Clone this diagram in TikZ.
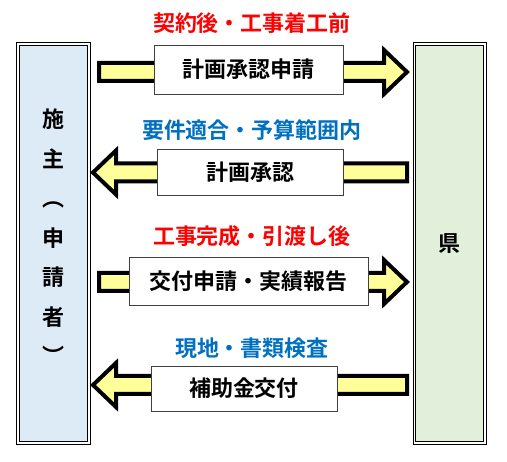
\documentclass[tikz,border=0pt]{standalone}
\usepackage{fontspec}
\setmainfont{Noto Sans CJK JP}[BoldFont={Noto Sans CJK JP Bold}]
\usetikzlibrary{calc}

\definecolor{ownerblue}{HTML}{DDEBF7}
\definecolor{kengreen}{HTML}{E2EFDA}
\definecolor{arrowyellow}{HTML}{FFFF99}
\definecolor{notered}{HTML}{FF0000}
\definecolor{noteblue}{HTML}{0070C0}

\tikzset{
  party/.style={draw=black, double=white, double distance=1.6pt, line width=1.1pt,
    minimum width=71pt, minimum height=399pt, inner sep=0pt},
  stepbox/.style={draw=black!75, fill=white, line width=0.9pt, inner sep=0pt,
    font=\fontsize{22}{22}\selectfont\bfseries},
  flowarrow/.style={draw=black, fill=arrowyellow, line width=4pt, line join=miter},
  note/.style={font=\fontsize{22}{22}\selectfont\bfseries},
}

% big hollow arrow from #1 to #2
\newcommand{\flowarrow}[2]{%
  \draw[flowarrow] ($(#1)+(0,-9)$) -- ($($(#2)!23pt!(#1)$)+(0,-9)$)
    -- ($($(#2)!23pt!(#1)$)+(0,-22)$) -- (#2)
    -- ($($(#2)!23pt!(#1)$)+(0,22)$) -- ($($(#2)!23pt!(#1)$)+(0,9)$)
    -- ($(#1)+(0,9)$) -- cycle;}

\begin{document}
\begin{tikzpicture}[x=1pt,y=-1pt]
  \useasboundingbox (0,0) rectangle (507,462);

  % Parties
  \node[party, fill=ownerblue] (owner) at (53.5,243.5) {};
  \node[party, fill=kengreen, minimum width=70.5pt] (ken) at (449.8,243.5)
    {\fontsize{22}{22}\selectfont\bfseries 県};
  \node[font=\fontsize{22}{39.5}\selectfont\bfseries, align=center] (ownerlabel)
    at (53.5,237) {施\\主\\︵\\申\\請\\者\\︶};

  % Arrow ends
  \coordinate (a1s) at (99,72);    \coordinate (a1e) at (407,72);
  \coordinate (a2s) at (407,172.5); \coordinate (a2e) at (93,172.5);
  \coordinate (a3s) at (99,282);   \coordinate (a3e) at (407,282);
  \coordinate (a4s) at (407,385);  \coordinate (a4e) at (93,385);

  \flowarrow{a1s}{a1e}
  \flowarrow{a2s}{a2e}
  \flowarrow{a3s}{a3e}
  \flowarrow{a4s}{a4e}

  % Steps
  \node[stepbox, minimum width=189pt, minimum height=49pt] (apply) at (248.5,69.5) {計画承認申請};
  \node[stepbox, minimum width=186pt, minimum height=46pt] (approve) at (250,172) {計画承認};
  \node[stepbox, minimum width=239pt, minimum height=48pt] (report) at (248.5,281) {交付申請・実績報告};
  \node[stepbox, minimum width=186pt, minimum height=45pt] (grant) at (244,388.5) {補助金交付};

  % Timing notes
  \node[note, text=notered]  (when1) at (252,23)  {契約後・工事着工前};
  \node[note, text=noteblue] (when2) at (252,130) {要件適合・予算範囲内};
  \node[note, text=notered]  (when3) at (252,236) {工事完成・引渡し後};
  \node[note, text=noteblue] (when4) at (252,348) {現地・書類検査};
\end{tikzpicture}
\end{document}
